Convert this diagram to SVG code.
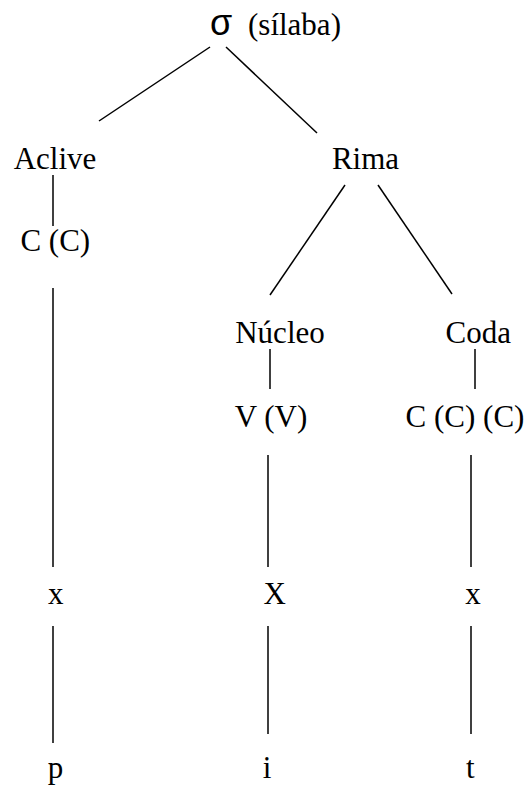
<svg xmlns="http://www.w3.org/2000/svg" width="528" height="785" viewBox="0 0 528 785">
  <style>
    .t { font-size: 31px; fill: #000; text-anchor: middle; }
    .e { stroke: #000; stroke-width: 1.5; fill: none; }
  </style>
  <rect width="528" height="785" fill="#fff"/>

  <g id="edges">
    <line class="e" x1="210" y1="47" x2="99" y2="121"/>
    <line class="e" x1="226" y1="47" x2="317" y2="133"/>
    <line class="e" x1="53" y1="175" x2="53" y2="226"/>
    <line class="e" x1="345" y1="185" x2="270" y2="295"/>
    <line class="e" x1="378" y1="185" x2="452" y2="294"/>
    <line class="e" x1="53" y1="288" x2="53" y2="567"/>
    <line class="e" x1="53" y1="626" x2="53" y2="743"/>
    <line class="e" x1="270" y1="349" x2="270" y2="389"/>
    <line class="e" x1="475" y1="349" x2="475" y2="389"/>
    <line class="e" x1="268" y1="455" x2="268" y2="567"/>
    <line class="e" x1="471" y1="455" x2="471" y2="567"/>
    <line class="e" x1="268" y1="626" x2="268" y2="734"/>
    <line class="e" x1="471" y1="626" x2="471" y2="734"/>
  </g>

  <g font-family="'Liberation Serif', 'Times New Roman', serif">
    <g id="syllable">
      <text font-family="'Liberation Sans', Arial, sans-serif" font-size="36" x="210" y="35">σ</text>
      <text class="t" x="248" y="35" text-anchor="start" style="text-anchor:start">(sílaba)</text>
    </g>
    <g id="onset"><text class="t" x="55" y="169">Aclive</text></g>
    <g id="rhyme"><text class="t" x="365.5" y="169">Rima</text></g>
    <g id="onset-slots"><text class="t" x="55.3" y="251">C (C)</text></g>
    <g id="nucleus"><text class="t" x="280" y="343">Núcleo</text></g>
    <g id="coda"><text class="t" x="478.3" y="343">Coda</text></g>
    <g id="nucleus-slots"><text class="t" x="271" y="427">V (V)</text></g>
    <g id="coda-slots"><text class="t" x="465" y="427">C (C) (C)</text></g>
    <g id="x-onset"><text class="t" x="55.7" y="604">x</text></g>
    <g id="x-nucleus"><text class="t" x="274.7" y="604">X</text></g>
    <g id="x-coda"><text class="t" x="473" y="604">x</text></g>
    <g id="seg-p"><text class="t" x="55.5" y="778">p</text></g>
    <g id="seg-i"><text class="t" x="267" y="778">i</text></g>
    <g id="seg-t"><text class="t" x="470.3" y="778">t</text></g>
  </g>
</svg>
